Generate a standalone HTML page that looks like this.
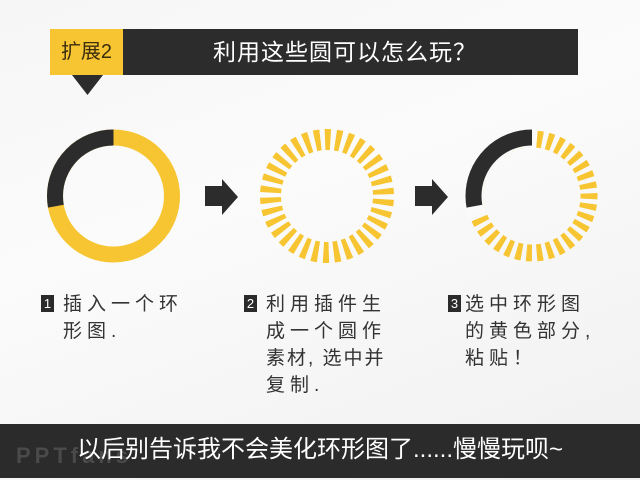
<!DOCTYPE html>
<html><head><meta charset="utf-8"><style>
*{margin:0;padding:0}
body{width:640px;height:480px;overflow:hidden;position:relative;background:linear-gradient(160deg,#f6f6f6 0%,#fbfbfb 40%,#f0f0f0 100%);font-family:"Liberation Sans","Noto Sans CJK SC",sans-serif}
.abs{position:absolute}
.t{position:absolute;font-size:19px;line-height:27px;letter-spacing:5px;color:#333;white-space:nowrap}
.n{display:inline-block;width:13px;height:17px;background:#2a2a2a;color:#fff;font-size:13px;line-height:17px;text-align:center;letter-spacing:0;vertical-align:2px;margin-right:9px}
</style></head><body>
<div class="abs" style="left:50px;top:29px;width:73px;height:46px;background:#f7c531;color:#3a2d10;font-size:20px;line-height:46px;text-align:center">扩展2</div>
<div class="abs" style="left:123px;top:29px;width:455px;height:46px;background:#2c2c2c;color:#fff;font-size:23px;line-height:46px;letter-spacing:1px"><span style="position:absolute;left:90px">利用这些圆可以怎么玩？</span></div>
<svg class="abs" style="left:0;top:0" width="640" height="480">
<polygon points="72,75 103,75 87.5,95" fill="#2c2c2c"/>
<g transform="translate(113.5,196) rotate(-90)">
<circle r="58.5" fill="none" stroke="#f7c531" stroke-width="16"/>
<circle r="58.5" fill="none" stroke="#2c2c2c" stroke-width="16" stroke-dasharray="102.1 400" transform="scale(1,-1)"/>
</g>
<g transform="translate(327,196) rotate(-92)">
<circle r="56.5" fill="none" stroke="#f7c531" stroke-width="21" stroke-dasharray="5.5 4.94"/>
</g>
<g transform="translate(532,196) rotate(-90)">
<circle r="57" fill="none" stroke="#f7c531" stroke-width="17" stroke-dasharray="5.5 4.73" transform="rotate(5)"/>
<circle r="58.5" fill="none" stroke="#fafafa" stroke-width="20" stroke-dasharray="114 400" transform="scale(1,-1) rotate(-3)"/>
<circle r="58.5" fill="none" stroke="#2c2c2c" stroke-width="16" stroke-dasharray="102.1 400" transform="scale(1,-1)"/>
</g>
<polygon points="205,186 222,186 222,179 238,197 222,215 222,206 205,206" fill="#2c2c2c"/>
<polygon points="415,186 432,186 432,179 448,197 432,215 432,206 415,206" fill="#2c2c2c"/>
</svg>
<div class="t" style="left:41px;top:291px"><span class="n">1</span>插入一个环<br><span style="padding-left:22px">形图.</span></div>
<div class="t" style="left:244px;top:291px"><span class="n">2</span>利用插件生<br><span style="padding-left:22px">成一个圆作</span><br><span style="padding-left:22px;letter-spacing:2px">素材, 选中并</span><br><span style="padding-left:22px">复制.</span></div>
<div class="t" style="left:448px;top:291px"><span class="n" style="margin-right:4px">3</span>选中环形图<br><span style="padding-left:17px">的黄色部分,</span><br><span style="padding-left:17px">粘贴！</span></div>
<div class="abs" style="left:0;top:424px;width:640px;height:54px;background:#2b2b2b"></div>
<div class="abs" style="left:16px;top:443px;font-size:22px;font-weight:bold;color:#4a4a4a;letter-spacing:4px">PPTfans</div>
<div class="abs" style="left:0;top:424px;width:640px;height:54px;line-height:52px;text-align:center;color:#fff;font-size:24px">以后别告诉我不会美化环形图了......慢慢玩呗~</div>
</body></html>
